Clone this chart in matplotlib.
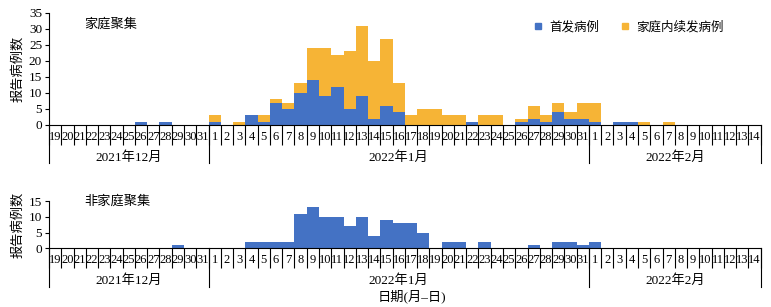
import numpy as np
import matplotlib
matplotlib.use('Agg')
from matplotlib import pyplot as plt
from matplotlib.lines import Line2D

plt.rcParams['font.family'] = ['Liberation Serif', 'Noto Sans CJK SC']
plt.rcParams['font.size'] = 9

# day labels: 2021-12-19 .. 2022-02-14
dec_days = [str(d) for d in range(19, 32)]
jan_days = [str(d) for d in range(1, 32)]
feb_days = [str(d) for d in range(1, 15)]
day_labels = dec_days + jan_days + feb_days
months = ['2021年12月', '2022年1月', '2022年2月']

# family clusters
fam_first = ([0, 0, 0, 0, 0, 0, 0, 1, 0, 1, 0, 0, 0]
             + [1, 0, 0, 3, 1, 7, 5, 10, 14, 9, 12, 5, 9, 2, 6, 4,
                0, 0, 0, 0, 0, 1, 0, 0, 0, 1, 2, 1, 4, 2, 2]
             + [1, 0, 1, 1, 0, 0, 0, 0, 0, 0, 0, 0, 0, 0])
fam_second = ([0, 0, 0, 0, 0, 0, 0, 0, 0, 0, 0, 0, 0]
              + [2, 0, 1, 0, 2, 1, 2, 3, 10, 15, 10, 18, 22, 18, 21, 9,
                 3, 5, 5, 3, 3, 0, 3, 3, 0, 1, 4, 2, 3, 2, 5]
              + [6, 0, 0, 0, 1, 0, 1, 0, 0, 0, 0, 0, 0, 0])
# non-family clusters
nonfam = ([0, 0, 0, 0, 0, 0, 0, 0, 0, 0, 1, 0, 0]
          + [0, 0, 0, 2, 2, 2, 2, 11, 13, 10, 10, 7, 10, 4, 9, 8,
             8, 5, 0, 2, 2, 0, 2, 0, 0, 0, 1, 0, 2, 2, 1]
          + [2, 0, 0, 0, 0, 0, 0, 0, 0, 0, 0, 0, 0, 0])

blue = '#4472C4'
gold = '#F6B436'

x = np.arange(len(day_labels))
month_edges = [-0.5, len(dec_days) - 0.5, len(dec_days) + len(jan_days) - 0.5, len(x) - 0.5]

fig = plt.figure(figsize=(7.71, 3.07), dpi=100)
ax1 = fig.add_axes([0.0636, 0.593, 0.923, 0.365])
ax2 = fig.add_axes([0.0636, 0.191, 0.923, 0.154])


def style(ax, ymax, line_len):
    ax.set_xlim(-0.5, len(x) - 0.5)
    ax.set_ylim(0, ymax)
    ax.set_yticks(np.arange(0, ymax + 1, 5))
    for s in ['top', 'right']:
        ax.spines[s].set_visible(False)
    ax.spines['left'].set_linewidth(0.8)
    ax.spines['bottom'].set_linewidth(0.8)
    ax.set_xticks(x)
    ax.set_xticklabels(day_labels)
    ax.set_xticks(np.arange(-0.5, len(x), 1), minor=True)
    ax.tick_params(axis='x', which='major', length=0, pad=4, labelsize=9)
    ax.tick_params(axis='x', which='minor', length=14.4, width=0.8, direction='out')
    ax.tick_params(axis='y', length=3, width=0.8, pad=2, labelsize=9.5)
    trans = ax.get_xaxis_transform()
    for xb in month_edges:
        ax.plot([xb, xb], [0, -line_len], color='black', lw=0.8,
                transform=trans, clip_on=False)
    for i, m in enumerate(months):
        xc = (month_edges[i] + month_edges[i + 1]) / 2
        ax.text(xc, -line_len * 0.85, m, transform=trans, ha='center',
                va='center', fontsize=9.5)
    ax.set_ylabel('报告病例数', fontsize=9.5, labelpad=3)


ax1.bar(x, fam_first, width=1.0, color=blue, linewidth=0)
ax1.bar(x, fam_second, width=1.0, bottom=fam_first, color=gold, linewidth=0)
style(ax1, 35, 0.34)
ax1.text(0.05, 0.9, '家庭聚集', transform=ax1.transAxes, va='center', fontsize=9.5)
handles = [Line2D([], [], marker='s', ls='', color=blue, markersize=4),
           Line2D([], [], marker='s', ls='', color=gold, markersize=4)]
ax1.legend(handles, ['首发病例', '家庭内续发病例'], loc='center left',
           bbox_to_anchor=(0.662, 0.875), ncol=2, frameon=False, fontsize=9,
           handletextpad=0.4, columnspacing=1.6, handlelength=1.0)

ax2.bar(x, nonfam, width=1.0, color=blue, linewidth=0)
style(ax2, 15, 0.81)
ax2.text(0.05, 1.0, '非家庭聚集', transform=ax2.transAxes, va='center', fontsize=9.5)
fig.text(0.534, 0.033, '日期(月–日)', ha='center', va='center', fontsize=9.5)

fig.savefig('out.png', dpi=100)
